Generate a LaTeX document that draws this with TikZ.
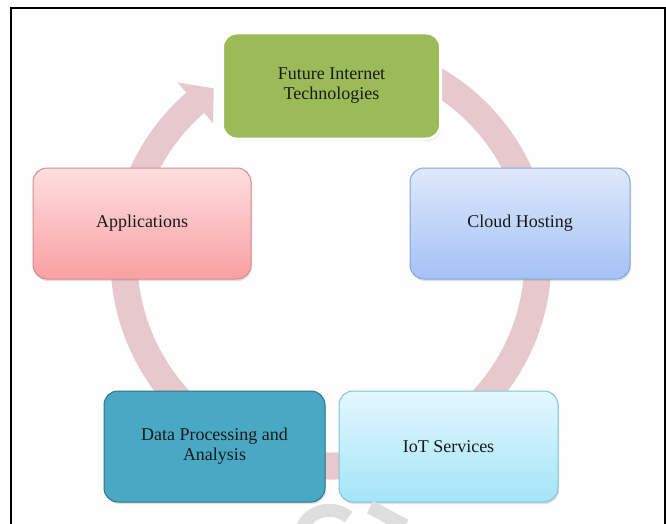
\documentclass[tikz,border=0pt]{standalone}
\usepackage{fontspec}
\setmainfont{Liberation Serif}
\usetikzlibrary{shadows,calc}
\definecolor{ringc}{RGB}{231,201,205}
\definecolor{greenbox}{RGB}{155,187,89}
\definecolor{apptop}{RGB}{255,222,224}
\definecolor{appbot}{RGB}{249,160,162}
\definecolor{appedge}{RGB}{214,140,142}
\definecolor{cloudtop}{RGB}{222,232,252}
\definecolor{cloudbot}{RGB}{163,194,245}
\definecolor{cloudedge}{RGB}{135,165,215}
\definecolor{datafill}{RGB}{73,169,196}
\definecolor{dataedge}{RGB}{45,115,135}
\definecolor{iottop}{RGB}{226,248,254}
\definecolor{iotbot}{RGB}{164,228,249}
\definecolor{iotedge}{RGB}{125,195,215}
\definecolor{wmark}{RGB}{222,222,222}
\definecolor{txt}{RGB}{25,25,25}
\begin{document}
\begin{tikzpicture}[x=1pt,y=-1pt,
  cyclebox/.style={rounded corners=14pt, minimum width=218pt, minimum height=111pt,
    align=center, font=\fontsize{18}{20}\selectfont, text=txt, line width=1pt,
    drop shadow={opacity=0.22, shadow xshift=1pt, shadow yshift=-2pt}},
  ring/.style={draw=ringc, line width=27pt}]
\useasboundingbox (0,0) rectangle (666,524);
\fill[gray!1] (28,30) rectangle (634,508);
% ring with arrow
\coordinate (ctr) at (331,259);
\draw[ring] ($(ctr)+(-80:207)$) arc[start angle=-80, end angle=229, radius=207];
\fill[ringc] ($(ctr)+(229:234)$) -- ($(ctr)+(235.5:207)$) -- ($(ctr)+(229:180)$) -- cycle;
% boxes
\node[cyclebox, minimum height=106pt, fill=greenbox, draw=white, line width=3pt] (fit) at (331.5,86) {Future Internet\\Technologies};
\node[cyclebox, top color=apptop, bottom color=appbot, draw=appedge] (app) at (142,223.5) {Applications};
\node[cyclebox, minimum width=220pt, top color=cloudtop, bottom color=cloudbot, draw=cloudedge] (cloud) at (520,223.5) {Cloud Hosting};
\node[cyclebox, minimum width=221pt, fill=datafill, draw=dataedge, text=black!90] (data) at (214.5,446.5) {Data Processing and\\Analysis};
\node[cyclebox, minimum width=219pt, top color=iottop, bottom color=iotbot, draw=iotedge] (iot) at (448.5,446.5) {IoT Services};
% faint marks below
\draw[wmark, line width=13pt] (301,530) arc[start angle=200, end angle=310, radius=30];
\draw[wmark, line width=14pt] (370,507) -- (405,526);
% frame
\draw[line width=2pt] (11,524) -- (11,8) -- (665,8) -- (665,524);
\end{tikzpicture}
\end{document}
